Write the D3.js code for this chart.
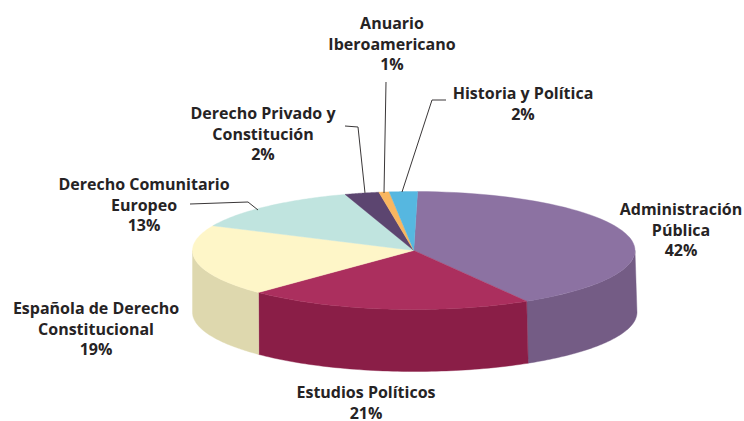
<!DOCTYPE html>
<html><head><meta charset="utf-8">
<script src="https://cdn.jsdelivr.net/npm/d3@7"></script>
<style>html,body{margin:0;padding:0;background:#fff}svg{display:block}
text{font-family:"Open Sans",sans-serif;font-weight:700;font-size:16px;fill:#262324;text-anchor:middle}</style>
</head><body><svg id="c" width="744" height="421"></svg>
<script>
const categories = ["Administración Pública","Estudios Políticos","Española de Derecho Constitucional","Derecho Comunitario Europeo","Derecho Privado y Constitución","Anuario Iberoamericano","Historia y Política"];
const sliceShares = [41.2,20.9,19.5,13.1,2.5,0.75,2.05];
const topColors = ["#8c72a2","#ab2f5e","#fef6c8","#c0e4df","#5c4570","#f9b65f","#56b7e0"];
const sideColors = ["#745c85","#8a1e47","#ded8ae","#9fc2bd","#4a3659","#d0964c","#4596b9"];
const labelLines = [["Administración","Pública","42%"],["Estudios Políticos","21%"],["Española de Derecho","Constitucional","19%"],["Derecho Comunitario","Europeo","13%"],["Derecho Privado y","Constitución","2%"],["Anuario","Iberoamericano","1%"],["Historia y Política","2%"]];

// layout, separate from the data
const labelAnchors = [[681,209],[366,392],[96,308],[144,184],[263,113],[392,23],[523,93]];
const leaders = [null,null,null,[[190,204],[248,202],[258,210]],[[345,126],[358,127],[365,193]],[[386,82],[384,193]],[[446,100],[432,100],[402,192]]];

const svg = d3.select("#c");
const x = d3.scaleLinear().domain([-1,1]).range([192.5,635]);
const y = d3.scaleLinear().domain([-1,1]).range([191.5,309.5]);
const xBottom = d3.scaleLinear().domain([-1,1]).range([192.5,637]);
const yBottom = d3.scaleLinear().domain([-1,1]).range([253,371.5]);

const startAngle = 1*Math.PI/180;
const pie = d3.pie().sort(null).startAngle(startAngle).endAngle(startAngle+2*Math.PI);
const slices = pie(sliceShares);
const px = (a,sx,sy)=>[sx(Math.sin(a)),sy(-Math.cos(a))];
const line = d3.line();
const arcPts = (a0,a1,sx,sy)=>d3.range(0,61).map(i=>px(a0+(a1-a0)*i/60,sx,sy));

// side walls: the front half only
slices.forEach((s,i)=>{
  const a0=Math.max(s.startAngle,Math.PI/2), a1=Math.min(s.endAngle,3*Math.PI/2);
  if(a1<=a0) return;
  const pts=arcPts(a0,a1,x,y).concat(arcPts(a1,a0,xBottom,yBottom));
  svg.append("path").attr("d",line(pts)+"Z").attr("fill",sideColors[i]).attr("stroke",sideColors[i]).attr("stroke-width",0.4);
});
// top face
const c=[x(0),y(0)];
slices.forEach((s,i)=>{
  const pts=[c].concat(arcPts(s.startAngle,s.endAngle,x,y));
  svg.append("path").attr("d",line(pts)+"Z").attr("fill",topColors[i]).attr("stroke",topColors[i]).attr("stroke-width",0.4);
});
// leaders
leaders.forEach(l=>{ if(l) svg.append("path").attr("d",line(l)).attr("fill","none").attr("stroke","#3a3738").attr("stroke-width",1); });
// labels
labelLines.forEach((lines,i)=>{
  const t=svg.append("text").attr("x",labelAnchors[i][0]).attr("y",labelAnchors[i][1]);
  lines.forEach((l,k)=>t.append("tspan").attr("x",labelAnchors[i][0]).attr("dy",k?"20.8":"0.36em").text(l));
});
</script></body></html>
